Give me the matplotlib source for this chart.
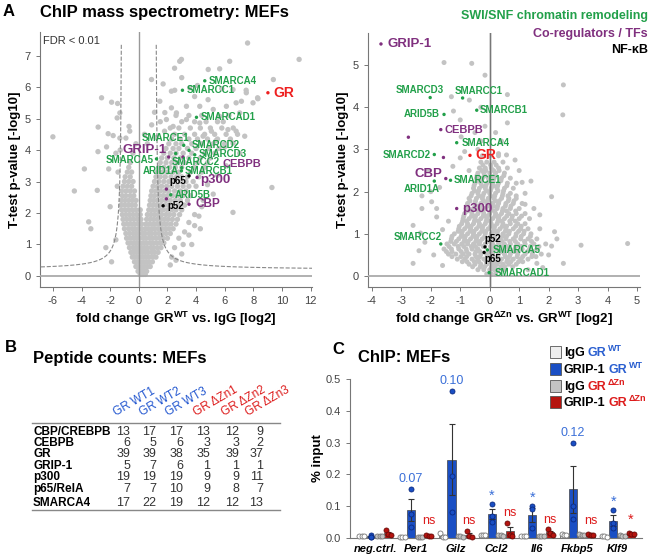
import numpy as np
import matplotlib
matplotlib.use("Agg")
import matplotlib.pyplot as plt
from matplotlib.patches import Rectangle

plt.rcParams['font.family'] = ['Liberation Sans', 'DejaVu Sans']
plt.rcParams['mathtext.fontset'] = 'custom'
plt.rcParams['mathtext.rm'] = 'Liberation Sans'
plt.rcParams['mathtext.bf'] = 'Liberation Sans:bold'
plt.rcParams['mathtext.it'] = 'Liberation Sans:italic'
plt.rcParams['axes.unicode_minus'] = False

# ---------------- data: volcano GR WT vs IgG ----------------
# dense cloud, read row by row (y level, x values)
wt_cloud_y = [0.05, 0.15, 0.3, 0.45, 0.6, 0.75, 0.9, 1.05, 1.2, 1.35, 1.5, 1.65, 1.8, 1.95,
              2.1, 2.25, 2.4, 2.55, 2.7, 2.85, 3.0, 3.15, 3.3, 3.45, 3.6, 3.75, 3.9, 4.05,
              4.2, 4.35, 4.5, 4.7, 4.9, 5.1]
wt_cloud_x = [
    [0.1, 0.3, 0.45, 0.2],
    [-0.05, 0.15, 0.35, 0.55, 0.25],
    [-0.2, 0.0, 0.2, 0.4, 0.6, 0.8],
    [-0.3, -0.1, 0.1, 0.3, 0.5, 0.7, 0.95],
    [-0.45, -0.25, -0.05, 0.15, 0.35, 0.55, 0.75, 1.0, 1.2],
    [-0.55, -0.35, -0.15, 0.05, 0.25, 0.45, 0.65, 0.9, 1.1, 1.35],
    [-0.65, -0.4, -0.2, 0.0, 0.2, 0.4, 0.6, 0.85, 1.05, 1.3, 1.55],
    [-0.75, -0.5, -0.3, -0.1, 0.1, 0.35, 0.55, 0.8, 1.0, 1.25, 1.5, 1.75],
    [-0.85, -0.6, -0.35, -0.15, 0.05, 0.3, 0.5, 0.75, 0.95, 1.2, 1.45, 1.7, 2.0],
    [-0.9, -0.65, -0.4, -0.2, 0.0, 0.25, 0.45, 0.7, 0.9, 1.15, 1.4, 1.65, 1.9, 2.2],
    [-1.0, -0.7, -0.45, -0.25, 0.0, 0.2, 0.45, 0.65, 0.9, 1.1, 1.35, 1.6, 1.85, 2.1, 2.4],
    [-1.05, -0.8, -0.55, -0.3, -0.05, 0.2, 0.5, 0.75, 1.0, 1.2, 1.45, 1.7, 1.95, 2.25, 2.6],
    [-1.1, -0.85, -0.6, -0.35, -0.1, 0.15, 0.55, 0.8, 1.05, 1.3, 1.55, 1.8, 2.05, 2.35, 2.7],
    [-1.15, -0.9, -0.65, -0.4, -0.15, 0.1, 0.6, 0.85, 1.1, 1.35, 1.6, 1.9, 2.15, 2.45, 2.85],
    [-1.2, -0.95, -0.7, -0.45, -0.2, 0.1, 0.7, 0.95, 1.2, 1.45, 1.7, 2.0, 2.3, 2.6, 3.0],
    [-1.25, -1.0, -0.75, -0.5, -0.25, 0.75, 1.0, 1.25, 1.5, 1.8, 2.1, 2.4, 2.75, 3.2],
    [-1.2, -0.95, -0.7, -0.45, -0.2, 0.8, 1.05, 1.3, 1.6, 1.9, 2.2, 2.55, 2.9, 3.4],
    [-1.15, -0.9, -0.6, -0.35, 0.85, 1.1, 1.4, 1.7, 2.0, 2.35, 2.7, 3.1, 3.6],
    [-1.2, -0.9, -0.6, -0.3, 0.9, 1.2, 1.5, 1.8, 2.1, 2.5, 2.9, 3.3],
    [-1.1, -0.8, -0.5, 1.0, 1.3, 1.6, 1.95, 2.3, 2.7, 3.1, 3.5, 4.0],
    [-1.0, -0.7, -0.4, 1.1, 1.4, 1.75, 2.1, 2.5, 2.9, 3.3, 3.8],
    [-0.95, -0.6, 1.2, 1.5, 1.85, 2.25, 2.65, 3.0, 3.4, 4.2],
    [-0.8, -0.5, 1.3, 1.65, 2.0, 2.4, 2.8, 3.6, 4.4],
    [-0.7, 1.4, 1.75, 2.15, 2.55, 3.0, 3.9, 4.6],
    [-0.6, 1.5, 1.9, 2.3, 2.7, 3.2, 4.1, 4.8],
    [1.6, 2.0, 2.45, 2.9, 3.5, 4.3, 5.0],
    [1.75, 2.2, 2.6, 3.1, 3.7, 4.6, 5.3],
    [1.9, 2.4, 2.8, 3.4, 4.0, 4.9, 5.6],
    [2.1, 2.6, 3.0, 3.7, 4.4, 5.2, 6.0],
    [2.3, 2.9, 3.5, 4.1, 4.8, 5.5, 6.4],
    [2.5, 3.2, 3.9, 4.6, 5.3, 6.1, 6.9],
    [2.8, 3.6, 4.3, 5.0, 5.8, 6.6],
    [3.0, 3.9, 4.7, 5.5],
    [2.6, 3.5, 4.4, 6.3],
]
wt_sparse_x = [-6.0, -4.5, -3.8, -3.5, -3.35, -2.84, -2.9, -2.85, -2.6, -2.25, -2.14, -2.1,
               -1.9, -1.79, -2.0, -1.48, -1.32, -1.51, -1.32, -1.6, -1.5, -1.45, -1.3, -1.6,
               -2.3, -1.9, -0.68, -0.63, -0.9, -0.4, -0.2,
               7.6, 11.2, 2.98, 6.35, 2.86, 0.89, 9.4, 2.5, 4.85, 5.65, 3.56, 6.58, 7.51, 8.32,
               1.47, 2.28, 3.33, 4.26, 5.2, 6.12, 7.05, 7.98, 9.3, 6.58, 7.4, 6.58, 7.05, 6.1,
               1.82, 1.93, 2.28, 2.51, 5.9, 6.8, 5.5, 4.8, 4.5, 5.2, 4.2, 3.9, 3.5, 3.1,
               6.8, 7.17, 8.3, 7.5, 4.84, 5.65, 5.07, 6.23, 2.63, 3.33, 2.4, 4.26, 4.49,
               1.5, 1.8, 2.2, 1.2, 0.9, 0.6, 0.4, 3.5, 3.9, 4.4, 3.2, 2.8, 2.5, 3.0, 2.3,
               3.7, 4.3, 2.2, 2.6, 3.9, 5.4, 6.0, 4.1, 1.1, 1.7, 3.0, 5.8]
wt_sparse_y = [4.42, 2.7, 3.4, 1.72, 1.5, 4.73, 2.72, 3.95, 5.66, 4.1, 4.52, 3.4,
               5.52, 4.46, 2.2, 5.48, 5.18, 5.02, 4.38, 3.9, 2.85, 3.3, 4.0, 1.15,
               0.9, 0.45, 4.75, 4.6, 4.38, 3.9, 4.2,
               7.4, 6.88, 6.88, 6.82, 6.82, 6.24, 6.24, 6.6, 6.56, 6.58, 5.98, 5.92, 5.82, 5.63,
               5.55, 5.34, 5.39, 5.39, 5.29, 5.39, 5.18, 5.5, 2.81, 2.02, 4.44, 4.22, 3.9, 3.5,
               5.19, 4.97, 5.87, 5.9, 4.9, 4.6, 3.2, 2.9, 2.4, 2.6, 1.9, 1.6, 1.3, 1.0,
               5.5, 5.55, 5.66, 5.9, 5.6, 5.07, 4.6, 4.65, 5.18, 4.97, 4.75, 4.86, 4.44,
               4.9, 4.6, 4.7, 4.4, 4.8, 4.2, 4.5, 1.7, 1.95, 2.2, 1.4, 1.2, 0.9, 0.7, 0.6,
               1.0, 1.5, 0.35, 0.5, 5.7, 4.3, 4.1, 6.05, 5.2, 6.1, 6.3, 5.95]

wt_names = ['SMARCA4', 'SMARCC1', 'GR', 'SMARCAD1', 'SMARCE1', 'SMARCD2', 'SMARCD3', 'GRIP-1',
            'SMARCA5', 'SMARCC2', 'CEBPB', 'SMARCB1', 'ARID1A', 'p65', 'p300', 'ARID5B',
            'p52', 'CBP', '', '']
wt_fc = [4.61, 3.05, 9.02, 4.03, 3.14, 3.51, 3.91, 2.09, 1.24, 2.58, 3.09, 3.0, 2.98, 3.51,
         4.07, 2.23, 1.7, 3.51, 1.93, 1.93]
wt_p = [6.2, 5.9, 5.82, 5.04, 4.15, 3.99, 3.85, 3.78, 3.72, 3.89, 3.78, 3.44, 3.34, 3.18,
        3.13, 2.58, 2.23, 2.28, 2.76, 2.45]
wt_group = ['swi', 'swi', 'gr', 'swi', 'swi', 'swi', 'swi', 'co', 'swi', 'swi', 'co', 'swi',
            'swi', 'nf', 'co', 'swi', 'nf', 'co', 'co', 'co']

# ---------------- data: volcano GR dZn vs GR WT ----------------
zn_cloud_y = [0.05, 0.15, 0.28, 0.4, 0.52, 0.64, 0.76, 0.88, 1.0, 1.12, 1.24, 1.36, 1.48,
              1.6, 1.72, 1.84, 1.96, 2.08, 2.2, 2.32, 2.44, 2.56, 2.7, 2.85,
              0.22, 0.34, 0.46, 0.58, 0.7, 0.82, 0.94, 1.06, 1.18, 1.3, 1.42, 1.54, 1.66,
              1.78, 1.9, 2.02, 2.14, 2.26, 2.38, 2.5, 2.63]
zn_cloud_x = [
    [-0.1, 0.05, 0.2],
    [-0.4, -0.2, 0.0, 0.15, 0.3, 0.5],
    [-0.7, -0.5, -0.3, -0.1, 0.1, 0.25, 0.45, 0.65, 0.9],
    [-1.1, -0.85, -0.6, -0.4, -0.2, 0.0, 0.2, 0.4, 0.6, 0.8, 1.05, 1.3],
    [-1.4, -1.15, -0.9, -0.7, -0.5, -0.3, -0.1, 0.1, 0.3, 0.5, 0.7, 0.95, 1.2, 1.45, 1.75],
    [-1.55, -1.3, -1.05, -0.8, -0.6, -0.4, 0.05, 0.25, 0.45, 0.65, 0.85, 1.1, 1.35, 1.6],
    [-1.45, -1.2, -0.95, -0.75, -0.55, -0.35, -0.15, 0.1, 0.3, 0.5, 0.7, 0.95, 1.2, 1.5, 1.9],
    [-1.3, -1.05, -0.85, -0.65, -0.45, -0.25, -0.05, 0.15, 0.35, 0.55, 0.8, 1.05, 1.3, 1.6],
    [-1.2, -0.95, -0.75, -0.55, -0.35, -0.15, 0.05, 0.25, 0.45, 0.65, 0.9, 1.15, 1.4],
    [-1.05, -0.85, -0.65, -0.45, -0.25, -0.05, 0.15, 0.35, 0.55, 0.8, 1.05, 1.3, 1.7],
    [-0.95, -0.75, -0.55, -0.35, -0.15, 0.05, 0.25, 0.45, 0.7, 0.95, 1.2],
    [-0.9, -0.7, -0.5, -0.3, -0.1, 0.1, 0.3, 0.5, 0.75, 1.0, 1.35],
    [-0.85, -0.6, -0.4, -0.2, 0.0, 0.2, 0.4, 0.65, 0.9, 1.2],
    [-0.8, -0.55, -0.35, -0.15, 0.05, 0.25, 0.45, 0.7, 1.0, 1.5],
    [-0.75, -0.5, -0.3, -0.1, 0.1, 0.3, 0.55, 0.8, 1.1],
    [-0.7, -0.45, -0.25, -0.05, 0.15, 0.4, 0.65, 0.9],
    [-0.6, -0.4, -0.2, 0.0, 0.2, 0.45, 0.7, 1.2],
    [-0.55, -0.35, -0.15, 0.05, 0.25, 0.5, 0.8],
    [-0.5, -0.3, -0.1, 0.1, 0.3, 0.6, 0.9],
    [-0.45, -0.25, -0.05, 0.15, 0.4, 0.7],
    [-0.4, -0.2, 0.0, 0.2, 0.5],
    [-0.35, -0.15, 0.05, 0.3, 0.6],
    [-0.3, -0.1, 0.15, 0.45],
    [-0.25, 0.0, 0.3],
    [-0.58, -0.32, -0.17, 0.07, 0.18, 0.38, 0.52, 0.78],
    [-0.93, -0.77, -0.52, -0.37, -0.12, 0.03, 0.23, 0.33, 0.58, 0.72, 0.98, 1.12],
    [-1.28, -0.98, -0.78, -0.47, -0.33, -0.08, 0.13, 0.27, 0.53, 0.67, 0.93, 1.12, 1.43, 1.57],
    [-1.47, -1.28, -0.97, -0.78, -0.47, -0.33, -0.02, 0.12, 0.38, 0.52, 0.83, 0.97, 1.28, 1.47],
    [-1.38, -1.07, -0.88, -0.62, -0.48, -0.22, 0.03, 0.17, 0.43, 0.57, 0.88, 1.07, 1.38, 1.67],
    [-1.32, -1.13, -0.87, -0.73, -0.47, -0.33, -0.07, 0.02, 0.28, 0.42, 0.68, 0.87, 1.18, 1.42],
    [-1.28, -0.97, -0.83, -0.57, -0.43, -0.17, 0.03, 0.17, 0.43, 0.57, 0.88, 1.07, 1.38],
    [-1.07, -0.93, -0.67, -0.53, -0.27, -0.13, 0.13, 0.27, 0.53, 0.67, 0.98, 1.17],
    [-1.03, -0.77, -0.63, -0.37, -0.23, 0.03, 0.17, 0.43, 0.57, 0.88, 1.07],
    [-0.92, -0.78, -0.52, -0.38, -0.12, 0.02, 0.28, 0.42, 0.68, 0.87],
    [-0.88, -0.62, -0.48, -0.22, -0.08, 0.18, 0.32, 0.58, 0.77, 1.08],
    [-0.77, -0.63, -0.37, -0.23, 0.03, 0.17, 0.43, 0.57, 0.88],
    [-0.78, -0.47, -0.33, -0.07, 0.13, 0.27, 0.53, 0.72],
    [-0.67, -0.48, -0.22, -0.08, 0.18, 0.32, 0.63, 0.82],
    [-0.63, -0.37, -0.23, 0.03, 0.17, 0.43, 0.62],
    [-0.52, -0.38, -0.12, 0.02, 0.28, 0.47],
    [-0.53, -0.27, -0.13, 0.13, 0.27, 0.58],
    [-0.42, -0.28, -0.02, 0.12, 0.38],
    [-0.43, -0.17, 0.03, 0.17, 0.48],
    [-0.27, -0.13, 0.13, 0.32],
    [-0.23, 0.03, 0.22],
]
zn_sparse_x = [-1.55, -0.61, -0.16, 2.5, 2.48, -1.23, -0.69, 0.6, 0.6, -1.0, -0.16, -0.97,
               0.57, 0.86, 2.1, 2.2, 2.28, 3.1, 4.68, 2.1, 1.1, -1.97, -1.8, -2.3, -2.35,
               1.7, 1.4, 1.0, 0.4, 0.2, -0.3, -0.4, -0.5, -1.3, -0.3, -2.0, -2.3, -1.7,
               -2.1, -1.4, -1.6, -2.6, -2.2, -1.9, -2.4, -1.8, 1.6, 2.0, 1.8, -1.25, -1.0,
               -0.85, -0.7, 0.3, 0.9, 1.2, -2.6, -1.6, 2.5, 1.3]
zn_sparse_y = [5.06, 5.04, 4.76, 4.53, 3.82, 3.91, 4.17, 4.3, 3.63, 3.7, 3.55, 3.3,
               2.87, 2.75, 1.88, 1.05, 0.88, 0.73, 0.77, 0.71, 2.22, 1.76, 1.6, 1.6, 1.02,
               1.45, 2.25, 2.5, 3.2, 3.4, 3.2, 3.0, 3.4, 4.25, 4.0, 2.0, 1.9, 2.1,
               2.5, 1.3, 1.1, 1.2, 0.8, 0.5, 0.6, 1.4, 0.3, 0.5, 0.2, 2.6, 2.8,
               2.95, 2.5, 2.9, 1.9, 1.7, 0.3, 0.25, 0.3, 0.15]

zn_names = ['GRIP-1', 'SMARCD3', 'SMARCC1', 'ARID5B', 'SMARCB1', 'CEBPB', '', 'SMARCA4',
            'SMARCD2', '', 'GR', 'CBP', 'SMARCE1', 'ARID1A', 'p300', 'SMARCC2', 'p52', 'p65',
            'SMARCA5', 'SMARCAD1']
zn_fc = [-3.69, -2.02, -0.92, -1.55, -0.44, -1.66, -2.76, -1.12, -1.88, -1.57, -0.67, -1.49,
         -1.33, -1.88, -1.12, -1.66, -0.16, -0.19, -0.08, -0.02]
zn_p = [5.5, 4.23, 4.22, 3.83, 3.93, 3.47, 3.29, 3.16, 2.88, 2.81, 2.86, 2.31, 2.27, 2.25,
        1.6, 0.76, 0.69, 0.56, 0.62, 0.08]
zn_group = ['co', 'swi', 'swi', 'swi', 'swi', 'co', 'co', 'swi', 'swi', 'co', 'gr', 'co',
            'swi', 'swi', 'co', 'swi', 'nf', 'nf', 'swi', 'swi']

# ---------------- data: peptide counts ----------------
pep_cols = ['GR WT1', 'GR WT2', 'GR WT3', 'GR \u0394Zn1', 'GR \u0394Zn2', 'GR \u0394Zn3']
pep_rows = ['CBP/CREBPB', 'CEBPB', 'GR', 'GRIP-1', 'p300', 'p65/RelA', 'SMARCA4']
pep_counts = [[13, 17, 17, 13, 12, 9],
              [6, 5, 6, 3, 3, 2],
              [39, 39, 38, 35, 39, 37],
              [5, 7, 6, 1, 1, 1],
              [19, 19, 19, 9, 9, 11],
              [7, 7, 10, 9, 8, 7],
              [17, 22, 19, 12, 12, 13]]

# ---------------- data: ChIP ----------------
chip_genes = ['neg.ctrl.', 'Per1', 'Gilz', 'Ccl2', 'Il6', 'Fkbp5', 'Klf9']
igg_wt = [[0.006, 0.006, 0.005], [0.004, 0.003, 0.004], [0.015, 0.003, 0.002],
          [0.009, 0.008, 0.008], [0.006, 0.006, 0.005], [0.012, 0.010, 0.008],
          [0.006, 0.005, 0.004]]
grip_wt = [[0.009, 0.003, 0.004], [0.155, 0.075, 0.035], [0.462, 0.195, 0.082],
           [0.107, 0.070, 0.050], [0.100, 0.090, 0.030], [0.300, 0.100, 0.060],
           [0.087, 0.047, 0.030]]
igg_zn = [[0.007, 0.006, 0.006], [0.003, 0.003, 0.003], [0.006, 0.005, 0.004],
          [0.011, 0.008, 0.006], [0.006, 0.005, 0.005], [0.014, 0.010, 0.008],
          [0.008, 0.006, 0.005]]
grip_zn = [[0.025, 0.012, 0.010], [0.008, 0.007, 0.006], [0.022, 0.006, 0.004],
           [0.047, 0.010, 0.006], [0.027, 0.015, 0.010], [0.014, 0.010, 0.008],
           [0.016, 0.013, 0.012]]
wt_stat = ['', '0.07', '0.10', '*', '*', '0.12', '*']
zn_stat = ['', 'ns', 'ns', 'ns', 'ns', 'ns', '*']

# ---------------- style ----------------
W, H = 650, 559
GREEN = '#22a04a'
PURPLE = '#80307f'
RED = '#ee2020'
BLUE_T = '#2458d0'
RED_T = '#dd1c1c'
GRAY_PT = '#c3c3c3'
grp_color = {'swi': GREEN, 'co': PURPLE, 'nf': 'black', 'gr': RED}

fig = plt.figure(figsize=(6.5, 5.59), dpi=100)


def fx(px):
    return px / W


def fy(py):
    return 1 - py / H


def ax_at(left, top, right, bottom):
    return fig.add_axes([fx(left), fy(bottom), fx(right) - fx(left), fy(top) - fy(bottom)])


def style_axes(ax):
    for s in ['top', 'right']:
        ax.spines[s].set_visible(False)
    for s in ['left', 'bottom']:
        ax.spines[s].set_color('#777777')
        ax.spines[s].set_linewidth(0.8)
    ax.tick_params(colors='#777777', labelcolor='#444444', labelsize=8, length=3, width=0.7)


def volcano(ax, cloud_y, cloud_x, sx, sy, names, fc, pv, grp, labels, size):
    xs = [x for row in cloud_x for x in row] + list(sx)
    ys = [y for y, row in zip(cloud_y, cloud_x) for _ in row] + list(sy)
    ax.scatter(xs, ys, s=size, color=GRAY_PT, edgecolors='none', zorder=2)
    ax.axhline(0, color='#aaaaaa', lw=1.3, zorder=3)
    ax.axvline(0, color='#999999', lw=1.0, zorder=3)
    for name, x, y, g in zip(names, fc, pv, grp):
        c = grp_color[g]
        ax.scatter([x], [y], s=6, color=c, edgecolors='none', zorder=5)
        if name and name in labels:
            dx, dy, ha, fs = labels[name]
            ax.annotate(name, (x, y), xytext=(dx, dy), textcoords='offset pixels',
                        ha=ha, va='center', color=c, fontsize=fs, fontweight='bold',
                        zorder=6)
    style_axes(ax)


# ---------------- panel A left ----------------
ax1 = ax_at(40, 32, 312, 287)
wt_labels = {
    'SMARCA4': (4, 0, 'left', 7), 'SMARCC1': (4, 0, 'left', 7),
    'GR': (5, 0, 'left', 10), 'SMARCAD1': (4, 0, 'left', 7),
    'SMARCE1': (5, 7, 'right', 7), 'SMARCD2': (3, 5, 'left', 7),
    'SMARCD3': (4, 1, 'left', 7), 'GRIP-1': (-2, 7, 'right', 9.5),
    'SMARCA5': (-3, -1, 'right', 7), 'SMARCC2': (-4, -8, 'left', 7),
    'CEBPB': (39, -7, 'left', 8), 'SMARCB1': (3, -3, 'left', 7),
    'ARID1A': (-3, 0, 'right', 7), 'p65': (-3, -5, 'right', 7),
    'p300': (3, -3, 'left', 9.5), 'ARID5B': (4, 0, 'left', 7),
    'p52': (4, 0, 'left', 7), 'CBP': (6, 0, 'left', 8.5),
}
volcano(ax1, wt_cloud_y, wt_cloud_x, wt_sparse_x, wt_sparse_y,
        wt_names, wt_fc, wt_p, wt_group, wt_labels, 15)
# FDR threshold curves
fdr_x0, fdr_c, fdr_y0 = 1.15, 0.5, 0.2
xr = np.linspace(fdr_x0 + 0.07, 12.1, 300)
ax1.plot(xr, fdr_c / (xr - fdr_x0) + fdr_y0, ls='--', color='#888888', lw=0.8, zorder=4)
ax1.plot(-xr, fdr_c / (xr - fdr_x0) + fdr_y0, ls='--', color='#888888', lw=0.8, zorder=4)
ax1.set_xlim(-6.9, 12.1)
ax1.set_ylim(-0.35, 7.75)
ax1.set_xticks(range(-6, 13, 2))
ax1.set_yticks(range(0, 8))
ax1.text(0.012, 0.985, 'FDR < 0.01', transform=ax1.transAxes, ha='left', va='top',
         fontsize=8, color='#333333')
ax1.set_ylabel('T-test p-value [-log10]', fontsize=9.5, fontweight='bold', labelpad=3)
ax1.set_xlabel(r'fold change GR$^{\mathbf{WT}}$ vs. IgG [log2]', fontsize=9.5,
               fontweight='bold', labelpad=3)

# ---------------- panel A right ----------------
ax2 = ax_at(368, 33, 640, 287)
zn_labels = {
    'GRIP-1': (7, 0, 'left', 9.5), 'SMARCD3': (-10, 8, 'center', 7),
    'SMARCC1': (16, 7, 'center', 7), 'ARID5B': (-4, 0, 'right', 7),
    'SMARCB1': (3, 0, 'left', 7), 'CEBPB': (4, 0, 'left', 8),
    'SMARCA4': (5, 0, 'left', 7), 'SMARCD2': (-3, 0, 'right', 7),
    'GR': (5, 0, 'left', 10), 'CBP': (-3, 5, 'right', 9.5),
    'SMARCE1': (3, 0, 'left', 7), 'ARID1A': (-13, -8, 'center', 7),
    'p300': (5, 0, 'left', 9.5), 'SMARCC2': (-23, 7, 'center', 7),
    'p52': (-1, 8, 'left', 7), 'p65': (0, -7, 'left', 7),
    'SMARCA5': (5, 0, 'left', 7), 'SMARCAD1': (6, 0, 'left', 7),
}
volcano(ax2, zn_cloud_y, zn_cloud_x, zn_sparse_x, zn_sparse_y,
        zn_names, zn_fc, zn_p, zn_group, zn_labels, 13)
ax2.axvline(0, color='#777777', lw=1.0, zorder=3)
ax2.set_xlim(-4.13, 5.1)
ax2.set_ylim(-0.26, 5.76)
ax2.set_xticks(range(-4, 6))
ax2.set_yticks(range(0, 6))
ax2.set_ylabel('T-test p-value [-log10]', fontsize=9.5, fontweight='bold', labelpad=3)
ax2.set_xlabel(r'fold change GR$^{\mathbf{\Delta Zn}}$ vs. GR$^{\mathbf{WT}}$ [log2]',
               fontsize=9.5, fontweight='bold', labelpad=3)

fig.text(fx(648), fy(16), 'SWI/SNF chromatin remodeling', color=GREEN, fontsize=9,
         fontweight='bold', ha='right', va='center')
fig.text(fx(648), fy(34), 'Co-regulators / TFs', color=PURPLE, fontsize=9,
         fontweight='bold', ha='right', va='center')
fig.text(fx(648), fy(50), 'NF-\u03baB', color='black', fontsize=9,
         fontweight='bold', ha='right', va='center')

fig.text(fx(3), fy(12), 'A', fontsize=12, fontweight='bold', va='center')
fig.text(fx(40), fy(12), 'ChIP mass spectrometry: MEFs', fontsize=12, fontweight='bold',
         va='center')

# ---------------- panel B ----------------
fig.text(fx(5), fy(348), 'B', fontsize=12, fontweight='bold', va='center')
fig.text(fx(33), fy(358), 'Peptide counts: MEFs', fontsize=12, fontweight='bold', va='center')
col_right = [130, 156, 183, 210, 239, 263]
row_y = [431.7, 442.7, 454.3, 465.7, 476.7, 489.3, 502.7]
for j, name in enumerate(pep_cols):
    c = BLUE_T if j < 3 else RED_T
    fig.text(fx(col_right[j] - 13), fy(419), name, color=c, fontsize=8.5, rotation=30,
             rotation_mode='anchor', ha='left', va='bottom')
for i, rname in enumerate(pep_rows):
    fig.text(fx(33), fy(row_y[i]), rname, fontsize=8.5, fontweight='bold', va='center')
    for j, v in enumerate(pep_counts[i]):
        fig.text(fx(col_right[j]), fy(row_y[i]), str(v), fontsize=9, color='#333333',
                 ha='right', va='center')
for yy in [422.5, 510]:
    fig.add_artist(plt.Line2D([fx(32), fx(280)], [fy(yy), fy(yy)], color='#888888', lw=1.0))

# ---------------- panel C ----------------
fig.text(fx(332), fy(349), 'C', fontsize=12, fontweight='bold', va='center')
fig.text(fx(358), fy(358), 'ChIP: MEFs', fontsize=12, fontweight='bold', va='center')
axc = ax_at(350, 379, 642, 538)
series = [igg_wt, grip_wt, igg_zn, grip_zn]
faces = ['#eeeeee', '#1a4fc4', '#c4c4c4', '#b5140f']
pt_face = ['white', '#1a4fc4', '#c4c4c4', '#b5140f']
pt_edge = ['#777777', '#0b2a80', '#777777', '#6a0a08']
offsets = [-0.33, -0.11, 0.11, 0.33]
jitter = [[-0.06, 0.0, 0.06], [0.0, 0.0, 0.0], [-0.06, 0.0, 0.06], [-0.06, 0.0, 0.06]]
xg = np.arange(len(chip_genes))
tops = []
for k, ser in enumerate(series):
    vals = np.array(ser)
    mean = vals.mean(axis=1)
    sem = vals.std(axis=1, ddof=1) / np.sqrt(vals.shape[1])
    xb = xg + offsets[k]
    axc.bar(xb, mean, width=0.2, color=faces[k], edgecolor='#444444', linewidth=0.5, zorder=2)
    axc.errorbar(xb, mean, yerr=sem, fmt='none', ecolor='#333333', elinewidth=0.8,
                 capsize=2.2, capthick=0.8, zorder=3)
    for i in range(len(chip_genes)):
        axc.scatter(xb[i] + np.array(jitter[k]), vals[i], s=13, facecolor=pt_face[k],
                    edgecolor=pt_edge[k], linewidth=0.6, zorder=4, clip_on=False)
    tops.append(np.maximum(vals.max(axis=1), mean + sem))
for i in range(len(chip_genes)):
    if wt_stat[i]:
        s = wt_stat[i]
        yy = tops[1][i] + (0.012 if s != '*' else 0.004)
        axc.text(xg[i] + offsets[1], yy, s, color='#3a6fd8', ha='center', va='bottom',
                 fontsize=9 if s != '*' else 10.5)
    if zn_stat[i]:
        s = zn_stat[i]
        yy = max(tops[3][i] + 0.012, 0.036)
        axc.text(xg[i] + offsets[3], yy, s, color=RED_T, ha='center', va='bottom',
                 fontsize=9 if s != '*' else 10.5)
axc.set_xlim(-0.62, 6.6)
axc.set_ylim(0, 0.5)
axc.set_yticks([0, 0.1, 0.2, 0.3, 0.4, 0.5])
axc.set_yticklabels(['0.0', '0.1', '0.2', '0.3', '0.4', '0.5'])
axc.set_xticks(xg)
axc.set_xticklabels(chip_genes, fontstyle='italic', fontweight='bold', fontsize=9.5)
style_axes(axc)
axc.tick_params(axis='x', length=0, labelcolor='black', pad=4)
axc.set_ylabel('% input', fontsize=9.5, fontweight='bold', labelpad=1)

# legend for panel C
renderer = fig.canvas.get_renderer()


def text_run(x_px, y_px, parts):
    x = x_px
    for s, color, size, dy, gap in parts:
        t = fig.text(fx(x), fy(y_px - dy), s, color=color, fontsize=size,
                     fontweight='bold', ha='left', va='baseline')
        x += t.get_window_extent(renderer).width + gap


leg_rows = [
    ('IgG', 'WT'), ('GRIP-1', 'WT'), ('IgG', '\u0394Zn'), ('GRIP-1', '\u0394Zn')]
leg_y = [352, 369, 386, 402]
for k, (lab, sup) in enumerate(leg_rows):
    yc = leg_y[k]
    fig.add_artist(Rectangle((fx(550), fy(yc + 6)), fx(11), 12 / H, facecolor=faces[k],
                             edgecolor='#555555', linewidth=0.6))
    gc = '#2a5fd0' if sup == 'WT' else RED_T
    text_run(564, yc + 4, [(lab, 'black', 9, 0, 3), ('GR', gc, 9, 0, 1.5),
                           (sup, gc, 6.5, 5, 0)])

fig.savefig('out.png', dpi=100)
